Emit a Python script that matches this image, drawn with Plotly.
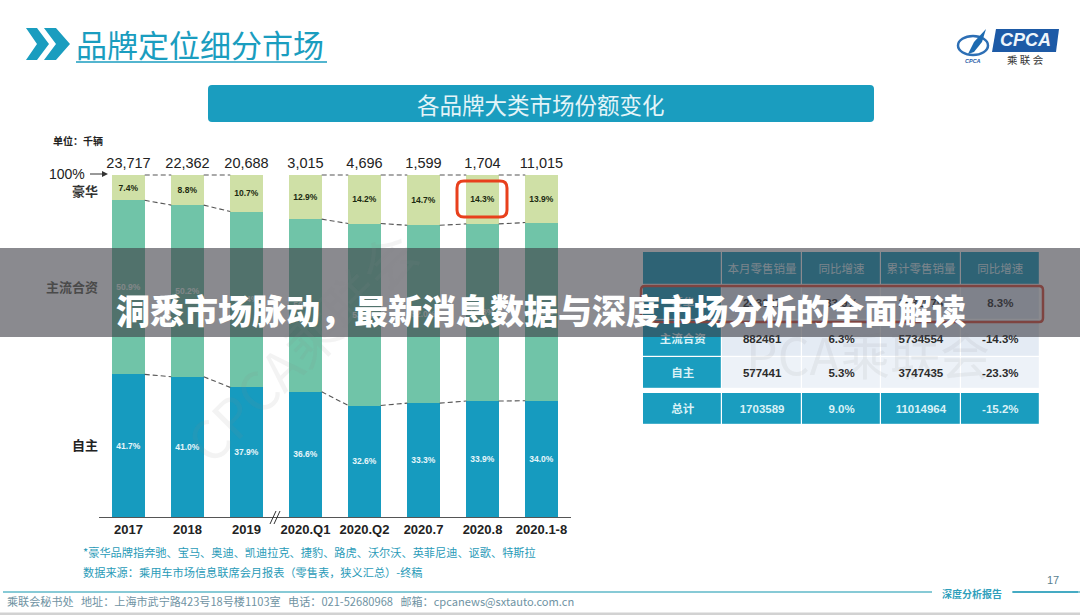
import plotly.graph_objects as go

W, H = 1080, 615
FONT = "Liberation Sans, Noto Sans CJK SC, sans-serif"
CJK = "Noto Sans CJK SC, sans-serif"
TEAL = "#1a9dbf"

# bar chart data
periods = ["2017", "2018", "2019", "2020.Q1", "2020.Q2", "2020.7", "2020.8", "2020.1-8"]
totals = ["23,717", "22,362", "20,688", "3,015", "4,696", "1,599", "1,704", "11,015"]
luxury = [7.4, 8.8, 10.7, 12.9, 14.2, 14.7, 14.3, 13.9]
mainstream = [50.9, 50.2, 51.4, 50.5, 53.2, 52.0, 51.8, 52.1]
domestic = [41.7, 41.0, 37.9, 36.6, 32.6, 33.3, 33.9, 34.0]

# table data
table_head = ["", "本月零售销量", "同比增速", "累计零售销量", "同比增速"]
table_rows = [
    ["豪华", "243687", "33.9%", "1532975", "8.3%"],
    ["主流合资", "882461", "6.3%", "5734554", "-14.3%"],
    ["自主", "577441", "5.3%", "3747435", "-23.3%"],
    ["总计", "1703589", "9.0%", "11014964", "-15.2%"],
]


def px(x):
    return x / W


def py(y):
    return 1 - y / H


def path(points, close=True):
    s = ""
    for i, (x, y) in enumerate(points):
        s += ("M" if i == 0 else "L") + f"{px(x):.5f},{py(y):.5f} "
    return s + ("Z" if close else "")


def round_rect(x0, y0, x1, y1, r):
    def p(x, y):
        return f"{px(x):.5f},{py(y):.5f}"
    return (f"M{p(x0 + r, y0)} L{p(x1 - r, y0)} Q{p(x1, y0)} {p(x1, y0 + r)} "
            f"L{p(x1, y1 - r)} Q{p(x1, y1)} {p(x1 - r, y1)} "
            f"L{p(x0 + r, y1)} Q{p(x0, y1)} {p(x0, y1 - r)} "
            f"L{p(x0, y0 + r)} Q{p(x0, y0)} {p(x0 + r, y0)} Z")


def label(x, y, text, size, color="#222222", anchor="center", family=FONT, angle=0, weight="normal"):
    return dict(x=px(x), y=py(y), xref="paper", yref="paper", text=text, showarrow=False,
                xanchor=anchor, yanchor="middle", textangle=angle,
                font=dict(size=size, color=color, family=family, weight=weight))


fig = go.Figure()

xs = list(range(len(periods)))
bar_w = 0.55
for name, vals, color, tcolor in [
    ("自主", domestic, "#169bbf", "#e8f6fa"),
    ("主流合资", mainstream, "#70c4a8", "#e8f6ee"),
    ("豪华", luxury, "#cfe0a6", "#1c2a10"),
]:
    fig.add_trace(go.Bar(
        x=xs, y=vals, name=name, width=bar_w, marker=dict(color=color, line=dict(width=0)),
        text=[f"<b>{v:.1f}%</b>" for v in vals], textposition="inside", textangle=0,
        insidetextanchor="middle", constraintext="none",
        textfont=dict(size=8.5, color=tcolor, family=FONT), hoverinfo="skip",
    ))

# dashed connectors between the bars, none across the axis break after 2019
levels = [
    domestic,
    [d + m for d, m in zip(domestic, mainstream)],
    [100] * len(periods),
]
for level in levels:
    lx, ly = [], []
    for i in range(len(periods) - 1):
        if periods[i] == "2019":
            continue
        lx += [i + bar_w / 2, i + 1 - bar_w / 2, None]
        ly += [level[i], level[i + 1], None]
    fig.add_trace(go.Scatter(x=lx, y=ly, mode="lines", hoverinfo="skip",
                             line=dict(color="#555555", width=1.1, dash="5px,3px")))

# totals above the bars
fig.add_trace(go.Scatter(
    x=xs, y=[100.9] * len(xs), mode="text", text=totals, textposition="top center",
    textfont=dict(size=14.5, color="#222222", family=FONT), cliponaxis=False, hoverinfo="skip",
))

# table on its own axes: fills from a heatmap, an empty row makes the gap above 总计
row_edges = [0, 33, 68, 105, 137, 141, 173]
col_edges = [0, 1, 2, 3, 4, 5]
fills = [
    [0, 0, 0, 0, 0],
    [0, 1, 1, 1, 1],
    [0, 1, 1, 1, 1],
    [0, 2, 2, 2, 2],
    [None, None, None, None, None],
    [0, 0, 0, 0, 0],
]
fig.add_trace(go.Heatmap(
    x=col_edges, y=row_edges, z=fills, xaxis="x2", yaxis="y2", showscale=False, zmin=0, zmax=2,
    colorscale=[[0, TEAL], [0.5, "#e4ebf4"], [1, "#edf2f8"]], xgap=1.2, ygap=1.2, hoverinfo="skip",
))
tx, ty, tt, tc = [], [], [], []
display_rows = [table_head] + table_rows[:3] + [None] + table_rows[3:]
for r, row in enumerate(display_rows):
    if row is None:
        continue
    for c, cell in enumerate(row):
        tx.append(c + 0.5)
        ty.append((row_edges[r] + row_edges[r + 1]) / 2 + 1.5)
        tt.append(f"<b>{cell}</b>" if r > 0 else cell)
        tc.append("#d9f1f6" if (r == 0 or c == 0 or r == 5) else "#2b2b2b")
fig.add_trace(go.Scatter(
    x=tx, y=ty, xaxis="x2", yaxis="y2", mode="text", text=tt, hoverinfo="skip",
    textfont=dict(size=11.5, color=tc, family=FONT),
))

shapes = [
    # slide furniture
    dict(type="path", path=path([(26, 28), (37, 28), (49, 44), (37, 60), (26, 60), (37, 44)]),
         fillcolor=TEAL, line_width=0),
    dict(type="path", path=path([(44, 28), (56, 28), (70, 44), (56, 60), (44, 60), (56, 44)]),
         fillcolor=TEAL, line_width=0),
    dict(type="line", x0=px(76), x1=px(327), y0=py(62), y1=py(62), line=dict(color=TEAL, width=1.6)),
    dict(type="path", path=round_rect(208, 85, 874, 122, 4), fillcolor=TEAL, line_width=0),
    # logo
    dict(type="path", path=path([(996, 29), (1059, 29), (1056, 52), (992, 52)]), fillcolor="#1d5aa6", line_width=0),
    dict(type="circle", x0=px(958), x1=px(988), y0=py(55), y1=py(36), line=dict(color="#2d6fb5", width=2.5)),
    dict(type="path", path=path([(968, 54), (974, 42), (986, 29), (982, 42), (974, 52)]),
         fillcolor="#1d6ab0", line_width=0),
    # highlight around the 2020.8 luxury share
    dict(type="path", path=round_rect(457, 181, 507, 217, 7), fillcolor="rgba(0,0,0,0)",
         line=dict(color="#e8401c", width=3)),
    # highlight around the luxury row
    dict(type="path", path=round_rect(641, 286, 1043, 322, 4), fillcolor="rgba(0,0,0,0)",
         line=dict(color="#e0503c", width=2.5)),
    # axis break
    dict(type="line", x0=px(270), x1=px(276), y0=py(524), y1=py(511), line=dict(color="#333333", width=1)),
    dict(type="line", x0=px(274), x1=px(280), y0=py(524), y1=py(511), line=dict(color="#333333", width=1)),
    # 100% arrow
    dict(type="line", x0=px(90), x1=px(103), y0=py(174), y1=py(174), line=dict(color="#333333", width=1)),
    dict(type="path", path=path([(108, 174), (102, 171), (102, 177)]), fillcolor="#333333", line_width=0),
    # footer
    dict(type="line", x0=px(3), x1=px(1080), y0=py(592), y1=py(592), line=dict(color="#5fb9c9", width=1.6)),
    dict(type="line", x0=px(1013), x1=px(1078), y0=py(592), y1=py(592), line=dict(color="#2f9fbc", width=1.6)),
    dict(type="rect", x0=px(932), x1=px(1012), y0=py(597), y1=py(587), fillcolor="white", line_width=0),
    dict(type="rect", x0=0, x1=1, y0=py(615), y1=py(612.5), fillcolor="#d2d2d2", line_width=0),
    # banner across the page
    dict(type="rect", x0=0, x1=1, y0=py(337), y1=py(248), fillcolor="rgba(60,60,68,0.6)", line_width=0),
]
for s in shapes:
    s["xref"] = "paper"
    s["yref"] = "paper"

annotations = [
    label(74, 44, "品牌定位细分市场", 31, TEAL, "left", CJK),
    label(541, 104, "各品牌大类市场份额变化", 22.5, "#e3f4f8", family=CJK),
    label(1025, 40, "<i><b>CPCA</b></i>", 18, "#eef5fb"),
    label(1025, 59, "乘 联 会", 10.5, "#333333", family=CJK),
    label(973, 61, "<i><b>CPCA</b></i>", 5.5, "#1d5aa6"),
    label(78, 140, "<b>单位：千辆</b>", 10, "#222222", family=CJK),
    label(67, 174, "100%", 14, "#222222"),
    label(85, 190, "<b>豪华</b>", 13, "#333333", family=CJK),
    label(72, 286, "<b>主流合资</b>", 13, "#4a4a4a", family=CJK),
    label(85, 444, "<b>自主</b>", 13, "#222222", family=CJK),
    label(81, 552, "*豪华品牌指奔驰、宝马、奥迪、凯迪拉克、捷豹、路虎、沃尔沃、英菲尼迪、讴歌、特斯拉", 11.2,
          "#2a9bb8", "left", CJK),
    label(81, 572, "数据来源：乘用车市场信息联席会月报表（零售表，狭义汇总）-终稿", 11.2, "#2a9bb8", "left", CJK),
    label(5, 601, "乘联会秘书处   地址：上海市武宁路423号18号楼1103室   电话：021-52680968   邮箱：cpcanews@sxtauto.com.cn",
          11.1, "#6f93a3", "left", CJK),
    label(972, 593, "<b>深度分析报告</b>", 10, "#2f9fbc", family=CJK),
    label(1053, 580, "17", 11, "#5a7f90"),
    label(300, 345, "CPCA乘联会", 54, "rgba(140,140,140,0.10)", family=CJK, angle=-45),
    label(868, 353, "PCA乘联会", 50, "rgba(120,120,120,0.09)", family=CJK),
    # banner headline
    label(541, 309, "洞悉市场脉动，最新消息数据与深度市场分析的全面解读", 34, "white", family=CJK, weight=900),
]

fig.update_layout(
    width=W, height=H, barmode="stack", showlegend=False,
    margin=dict(l=0, r=0, t=0, b=0), paper_bgcolor="white", plot_bgcolor="rgba(0,0,0,0)",
    shapes=shapes, annotations=annotations,
    xaxis=dict(domain=[px(99), px(571)], range=[-0.5, 7.5], tickmode="array", tickvals=xs, ticktext=[f"<b>{p}</b>" for p in periods],
               showgrid=False, zeroline=False, showline=True, linecolor="#555555", linewidth=1.3,
               ticks="", tickfont=dict(size=13, color="#222222", family=FONT), fixedrange=True),
    # axis runs to 104 (100 stays at y=175) so the totals above the bars are in range
    yaxis=dict(domain=[py(517), py(517 - 3.42 * 104)], range=[0, 104], visible=False, fixedrange=True),
    xaxis2=dict(domain=[px(643), px(1040)], range=[0, 5], anchor="y2", visible=False, fixedrange=True),
    yaxis2=dict(domain=[py(425), py(252)], range=[173, 0], anchor="x2", visible=False, fixedrange=True),
)

fig.write_html("out.html", config=dict(displayModeBar=False), post_script="document.body.style.margin='0';")
